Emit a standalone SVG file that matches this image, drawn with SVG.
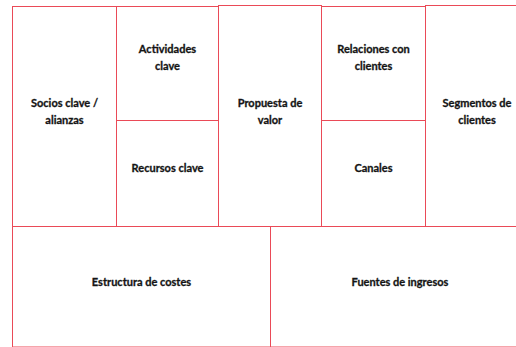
<svg xmlns="http://www.w3.org/2000/svg" width="516" height="347" viewBox="0 0 516 347">
<style>
.b{fill:#fff;stroke:#ea4a57;stroke-width:1}
.t{font-family:Lato,"Liberation Sans",sans-serif;font-weight:bold;font-size:11px;fill:#141414;stroke:#141414;stroke-width:0.3;text-anchor:middle}
</style>
<rect width="516" height="347" fill="#fff"/>
<g id="socios"><rect class="b" x="12.5" y="6.5" width="104" height="220"/><text class="t" x="64.5" y="107">Socios clave /</text><text class="t" x="64.5" y="124">alianzas</text></g>
<g id="actividades"><rect class="b" x="116.5" y="6.5" width="102" height="114"/><text class="t" x="167.5" y="53">Actividades</text><text class="t" x="167.5" y="70">clave</text></g>
<g id="recursos"><rect class="b" x="116.5" y="120.5" width="102" height="106"/><text class="t" x="167.5" y="172">Recursos clave</text></g>
<g id="propuesta"><rect class="b" x="218.5" y="5.5" width="103" height="221"/><text class="t" x="270" y="107">Propuesta de</text><text class="t" x="270" y="124">valor</text></g>
<g id="relaciones"><rect class="b" x="321.5" y="6.5" width="104" height="114"/><text class="t" x="373.5" y="53">Relaciones con</text><text class="t" x="373.5" y="70">clientes</text></g>
<g id="canales"><rect class="b" x="321.5" y="120.5" width="104" height="106"/><text class="t" x="373.5" y="172">Canales</text></g>
<g id="segmentos"><rect class="b" x="425.5" y="5.5" width="104" height="221"/><text class="t" x="477" y="107">Segmentos de</text><text class="t" x="477" y="124">clientes</text></g>
<g id="costes"><rect class="b" x="12.5" y="226.5" width="258" height="120.5"/><text class="t" x="141.5" y="285.5">Estructura de costes</text></g>
<g id="ingresos"><rect class="b" x="270.5" y="226.5" width="259" height="120.5"/><text class="t" x="400" y="285.5">Fuentes de ingresos</text></g>
<g id="connectors"></g>
</svg>
